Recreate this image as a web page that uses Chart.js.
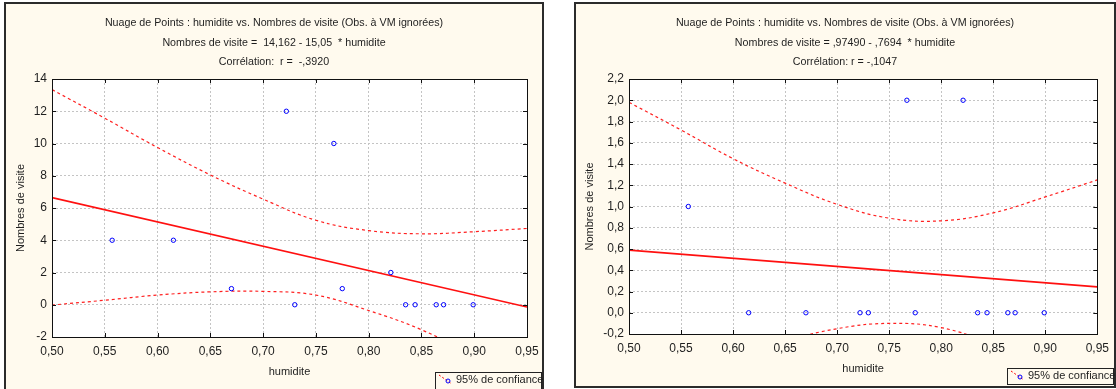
<!DOCTYPE html>
<html>
<head>
<meta charset="utf-8">
<script src="https://cdn.jsdelivr.net/npm/chart.js@4.4.1/dist/chart.umd.min.js"></script>
<style>
  body { margin: 0; background: #fff; width: 1116px; height: 389px; overflow: hidden; position: relative; }
  .panel { position: absolute; box-sizing: border-box; border: 2px solid #2b2b2b; background: #fffaee; }
  #p1 { left: 4px; top: 2px; width: 540px; height: 400px; }
  #p2 { left: 574px; top: 2px; width: 542px; height: 386px; }
  canvas { position: absolute; top: 0; }
  #c1 { left: 0; }
  #c2 { left: 556px; }
</style>
</head>
<body>
<div class="panel" id="p1"></div>
<div class="panel" id="p2"></div>
<canvas id="c1" width="556" height="389"></canvas>
<canvas id="c2" width="560" height="389"></canvas>
<script>
// observations (same humidite for both graphs)
const humidite = [0.557, 0.615, 0.670, 0.722, 0.730, 0.767, 0.775, 0.821, 0.835, 0.844, 0.864, 0.871, 0.899];
const visitesA = [4, 4, 1, 12, 0, 10, 1, 2, 0, 0, 0, 0, 0];
const visitesB = [1, 0, 0, 0, 0, 2, 0, 2, 0, 0, 0, 0, 0];

// fitted line ends
const fitX = [0.50, 0.95];
const fitA = [6.64, -0.14];
const fitB = [0.590, 0.244];

// 95% bands
const bandX = [0.50, 0.55, 0.60, 0.65, 0.70, 0.75, 0.80, 0.85, 0.90, 0.95];
const upperA = [13.34, 11.57, 9.75, 8.05, 6.55, 5.24, 4.60, 4.40, 4.53, 4.73];
const lowerA = [-0.02, 0.28, 0.60, 0.80, 0.83, 0.60, -0.36, -1.55, -3.2, -5.0];
const upperB = [1.98, 1.72, 1.45, 1.22, 1.02, 0.89, 0.865, 0.94, 1.09, 1.25];
const lowerB = [-0.80, -0.62, -0.44, -0.27, -0.15, -0.10, -0.14, -0.30, -0.53, -0.78];

// tick labels
const xTicks = [0.50, 0.55, 0.60, 0.65, 0.70, 0.75, 0.80, 0.85, 0.90, 0.95];
const yTicksA = [-2, 0, 2, 4, 6, 8, 10, 12, 14];
const yTicksB = [-0.2, 0.0, 0.2, 0.4, 0.6, 0.8, 1.0, 1.2, 1.4, 1.6, 1.8, 2.0, 2.2];

const titlesA = ['Nuage de Points : humidite vs. Nombres de visite (Obs. à VM ignorées)',
                 'Nombres de visite =  14,162 - 15,05  * humidite',
                 'Corrélation:  r =  -,3920'];
const titlesB = ['Nuage de Points : humidite vs. Nombres de visite (Obs. à VM ignorées)',
                 'Nombres de visite = ,97490 - ,7694  * humidite',
                 'Corrélation: r = -,1047'];
const legendText = '95% de confiance';

const FONT = "'Liberation Sans', Arial, sans-serif";
const TXT = '#1e1e1e';
Chart.defaults.font.family = FONT;
Chart.defaults.font.size = 11;
Chart.defaults.color = TXT;

const pts = (xs, ys) => xs.map((x, i) => ({x: x, y: ys[i]}));
const comma = (v, d) => v.toFixed(d).replace('.', ',');

// white plot area, frame, inside tick marks, titles and the legend box
const decor = {
  id: 'decor',
  beforeDraw(chart) {
    const {ctx, chartArea: a} = chart;
    ctx.save();
    ctx.fillStyle = '#ffffff';
    ctx.fillRect(a.left, a.top, a.right - a.left, a.bottom - a.top);
    ctx.restore();
  },
  afterDraw(chart, args, o) {
    const {ctx, chartArea: a, scales} = chart;
    ctx.save();
    ctx.strokeStyle = '#111';
    ctx.lineWidth = 1;
    ctx.beginPath();
    scales.x.ticks.forEach(t => {
      const px = Math.round(scales.x.getPixelForValue(t.value)) + 0.5;
      ctx.moveTo(px, a.bottom); ctx.lineTo(px, a.bottom - 4);
      ctx.moveTo(px, a.top); ctx.lineTo(px, a.top + 4);
    });
    scales.y.ticks.forEach(t => {
      const py = Math.round(scales.y.getPixelForValue(t.value)) + 0.5;
      ctx.moveTo(a.left, py); ctx.lineTo(a.left + 4, py);
      ctx.moveTo(a.right, py); ctx.lineTo(a.right - 4, py);
    });
    ctx.stroke();
    ctx.strokeRect(Math.round(a.left) + 0.5, Math.round(a.top) + 0.5,
                   Math.round(a.right - a.left), Math.round(a.bottom - a.top));

    // titles, a little condensed like the original
    ctx.save();
    ctx.translate(o.cx, 0);
    ctx.scale(0.93, 1);
    ctx.fillStyle = TXT;
    ctx.font = '11.5px ' + FONT;
    ctx.textAlign = 'center';
    ctx.textBaseline = 'middle';
    o.titles.forEach((t, i) => ctx.fillText(t, 0, o.ty[i]));
    ctx.restore();

    // legend box
    const L = o.legend;
    ctx.fillStyle = '#fffaee';
    ctx.fillRect(L.x + 0.5, L.y + 0.5, L.w, L.h);
    ctx.strokeStyle = '#222';
    ctx.strokeRect(L.x + 0.5, L.y + 0.5, L.w, L.h);
    ctx.strokeStyle = '#ff0000';
    ctx.setLineDash([2, 2]);
    ctx.beginPath();
    ctx.moveTo(L.x + 4, L.y + 3); ctx.lineTo(L.x + 17, L.y + 12);
    ctx.stroke();
    ctx.setLineDash([]);
    ctx.strokeStyle = '#0000ff';
    ctx.beginPath();
    ctx.arc(L.x + 13, L.y + 9, 2, 0, Math.PI * 2);
    ctx.stroke();
    ctx.fillStyle = TXT;
    ctx.font = '11px ' + FONT;
    ctx.textAlign = 'left';
    ctx.textBaseline = 'middle';
    ctx.fillText(legendText, L.x + 21, L.y + 8);
    ctx.restore();
  }
};

function makeChart(id, o) {
  return new Chart(document.getElementById(id), {
    type: 'scatter',
    data: {
      datasets: [
        {
          data: pts(humidite, o.obs),
          pointRadius: 2.2,
          pointBorderWidth: 1,
          pointBorderColor: '#0000ff',
          pointBackgroundColor: 'rgba(0,0,0,0)'
        },
        {
          data: pts(fitX, o.fit),
          showLine: true,
          borderColor: '#ff1010',
          borderWidth: 1.7,
          pointRadius: 0
        },
        {
          data: pts(bandX, o.upper),
          showLine: true,
          borderColor: '#ff2020',
          borderWidth: 1.2,
          borderDash: [3, 3],
          tension: 0.4,
          pointRadius: 0
        },
        {
          data: pts(bandX, o.lower),
          showLine: true,
          borderColor: '#ff2020',
          borderWidth: 1.2,
          borderDash: [3, 3],
          tension: 0.4,
          pointRadius: 0
        }
      ]
    },
    options: {
      responsive: false,
      animation: false,
      events: [],
      layout: { padding: { left: 0, top: o.top, right: o.padRight, bottom: 0 } },
      scales: {
        x: {
          type: 'linear',
          min: 0.5,
          max: 0.95,
          afterBuildTicks: s => { s.ticks = xTicks.map(v => ({value: v})); },
          afterFit: s => { s.height = o.xHeight; },
          ticks: { autoSkip: false, maxRotation: 0, padding: 7, color: TXT, font: { size: 12 }, callback: v => comma(v, 2) },
          grid: { color: '#c4c4c4', drawTicks: false },
          border: { display: false, dash: [2, 2] },
          title: { display: true, text: 'humidite', color: TXT, padding: { top: 0, bottom: o.xTitlePad } }
        },
        y: {
          type: 'linear',
          min: o.yTicks[0],
          max: o.yTicks[o.yTicks.length - 1],
          afterBuildTicks: s => { s.ticks = o.yTicks.map(v => ({value: v})); },
          afterFit: s => { s.width = o.left; },
          ticks: { autoSkip: false, padding: 5, color: TXT, font: { size: 12 }, callback: v => o.fmt(v) },
          grid: { color: '#c4c4c4', drawTicks: false },
          border: { display: false, dash: [2, 2] },
          title: { display: true, text: 'Nombres de visite', color: TXT, padding: { top: o.yTitlePad, bottom: 0 } }
        }
      },
      plugins: {
        legend: { display: false },
        tooltip: { enabled: false },
        decor: { titles: o.titles, cx: o.cx, ty: [23, 43, 62], legend: o.legend }
      }
    },
    plugins: [decor]
  });
}

makeChart('c1', {
  obs: visitesA, fit: fitA, upper: upperA, lower: lowerA, yTicks: yTicksA,
  fmt: v => String(v), titles: titlesA, cx: 274,
  top: 79, left: 52, padRight: 29, xHeight: 52, xTitlePad: 10, yTitlePad: 14,
  legend: { x: 435, y: 372, w: 106, h: 24 }
});
makeChart('c2', {
  obs: visitesB, fit: fitB, upper: upperB, lower: lowerB, yTicks: yTicksB,
  fmt: v => comma(v, 1), titles: titlesB, cx: 289,
  top: 79, left: 73, padRight: 16, xHeight: 55, xTitlePad: 13, yTitlePad: 27,
  legend: { x: 451, y: 368, w: 106, h: 16 }
});
</script>
</body>
</html>
